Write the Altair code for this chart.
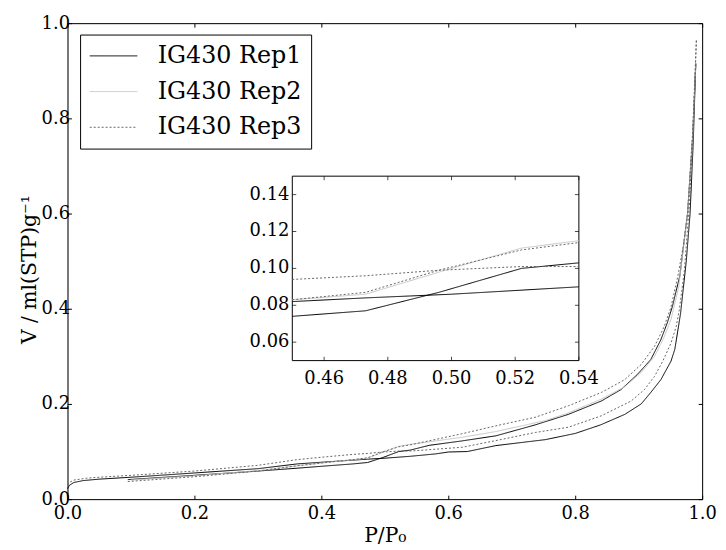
import altair as alt
import pandas as pd

FONT = "DejaVu Serif"
REPS = ["IG430 Rep1", "IG430 Rep2", "IG430 Rep3"]
COLORS = ["#000000", "#c4c4c4", "#666666"]
DASHES = [[1, 0], [1, 0], [2, 2]]

# Rep1 adsorption / desorption
R1A_X = [0.000, 0.003, 0.010, 0.025, 0.050, 0.100, 0.200, 0.300, 0.362, 0.450, 0.473, 0.500, 0.540,
         0.580, 0.600, 0.630, 0.675, 0.753, 0.800, 0.840, 0.878, 0.904, 0.919, 0.935, 0.951, 0.957,
         0.966, 0.975, 0.981, 0.986, 0.990]
R1A_Y = [0.022, 0.029, 0.035, 0.039, 0.042, 0.046, 0.055, 0.064, 0.074, 0.082, 0.084, 0.086, 0.090,
         0.095, 0.099, 0.100, 0.1125, 0.125, 0.138, 0.156, 0.178, 0.200, 0.224, 0.251, 0.290, 0.315,
         0.390, 0.500, 0.600, 0.750, 0.915]
R1D_X = [0.095, 0.200, 0.300, 0.362, 0.400, 0.450, 0.473, 0.496, 0.522, 0.540, 0.570, 0.620, 0.675,
         0.737, 0.789, 0.841, 0.872, 0.898, 0.919, 0.935, 0.945, 0.953, 0.965, 0.977, 0.985, 0.990]
R1D_Y = [0.041, 0.050, 0.059, 0.065, 0.069, 0.074, 0.077, 0.087, 0.100, 0.103, 0.113, 0.122, 0.133,
         0.156, 0.178, 0.206, 0.230, 0.262, 0.293, 0.335, 0.370, 0.404, 0.470, 0.600, 0.760, 0.915]
# Rep2
R2_X = [0.100, 0.200, 0.300, 0.362, 0.450, 0.473, 0.500, 0.522, 0.540, 0.622, 0.675, 0.753, 0.789,
        0.841, 0.878, 0.904, 0.925, 0.940, 0.951, 0.963, 0.977, 0.985, 0.990]
R2_Y = [0.040, 0.049, 0.060, 0.070, 0.083, 0.086, 0.100, 0.111, 0.115, 0.130, 0.142, 0.165, 0.181,
        0.210, 0.236, 0.266, 0.300, 0.340, 0.378, 0.445, 0.600, 0.760, 0.915]
# Rep3 adsorption / desorption
R3A_X = [0.000, 0.003, 0.010, 0.030, 0.050, 0.100, 0.200, 0.300, 0.362, 0.400, 0.450, 0.473, 0.496,
         0.522, 0.540, 0.622, 0.675, 0.737, 0.789, 0.841, 0.888, 0.909, 0.925, 0.938, 0.951, 0.959,
         0.964, 0.972, 0.980, 0.986, 0.991]
R3A_Y = [0.030, 0.035, 0.040, 0.044, 0.046, 0.050, 0.059, 0.071, 0.083, 0.088, 0.094, 0.096, 0.099,
         0.101, 0.101, 0.109, 0.123, 0.140, 0.151, 0.175, 0.206, 0.230, 0.258, 0.290, 0.328, 0.362,
         0.397, 0.480, 0.620, 0.780, 0.967]
R3D_X = [0.095, 0.200, 0.300, 0.362, 0.400, 0.450, 0.473, 0.496, 0.522, 0.540, 0.622, 0.675, 0.737,
         0.789, 0.841, 0.878, 0.904, 0.925, 0.940, 0.951, 0.962, 0.970, 0.977, 0.985, 0.991]
R3D_Y = [0.037, 0.047, 0.059, 0.070, 0.076, 0.083, 0.087, 0.099, 0.110, 0.114, 0.1375, 0.154, 0.172,
         0.196, 0.224, 0.251, 0.283, 0.321, 0.362, 0.404, 0.470, 0.530, 0.600, 0.770, 0.967]

MAIN_TICKS = [0.0, 0.2, 0.4, 0.6, 0.8, 1.0]
INSET_XTICKS = [0.46, 0.48, 0.50, 0.52, 0.54]
INSET_YTICKS = [0.06, 0.08, 0.10, 0.12, 0.14]
INSET_XDOM = [0.45, 0.54]
INSET_YDOM = [0.05, 0.15]

series = [
    (REPS[0], "ads", R1A_X, R1A_Y),
    (REPS[0], "des", R1D_X, R1D_Y),
    (REPS[1], "des", R2_X, R2_Y),
    (REPS[2], "ads", R3A_X, R3A_Y),
    (REPS[2], "des", R3D_X, R3D_Y),
]
rows = []
for rep, br, xs, ys in series:
    for x, y in zip(xs, ys):
        rows.append({"rep": rep, "branch": rep + " " + br, "x": x, "y": y})
df = pd.DataFrame(rows)
box = pd.DataFrame({"x0": [INSET_XDOM[0]], "x1": [INSET_XDOM[1]],
                    "y0": [INSET_YDOM[0]], "y1": [INSET_YDOM[1]]})
xt = pd.DataFrame({"v": INSET_XTICKS, "lo": INSET_YDOM[0], "hi": INSET_YDOM[1]})
yt = pd.DataFrame({"v": INSET_YTICKS, "lo": INSET_XDOM[0], "hi": INSET_XDOM[1]})

# layout geometry (pixels inside the 640x480 plot area)
W, H = 640, 480
IN_L, IN_R, IN_T, IN_B = 226.7, 515.7, 154.3, 340.3
# inset scales span the whole plot area so that the inset window lands at IN_L..IN_R / IN_T..IN_B
kx = (INSET_XDOM[1] - INSET_XDOM[0]) / (IN_R - IN_L)
ky = (INSET_YDOM[1] - INSET_YDOM[0]) / (IN_B - IN_T)
IN_XFULL = [INSET_XDOM[0] - IN_L * kx, INSET_XDOM[1] + (W - IN_R) * kx]
IN_YFULL = [INSET_YDOM[0] - (H - IN_B) * ky, INSET_YDOM[1] + IN_T * ky]

TICK_IN = alt.ExprRef(expr="-4")

common_axis = dict(labelFont=FONT, labelFontSize=18, labelColor="black", tickColor="black",
                   domainColor="black", grid=False, labelFlush=False, tickSize=TICK_IN)

legend = alt.Legend(title=None, orient="none", legendX=12.7, legendY=11.5, strokeColor="black",
                    fillColor="white", padding=9, cornerRadius=0,
                    symbolType="M-2.043,0L2.043,0", symbolSize=552, symbolStrokeWidth=1,
                    symbolOffset=12.25, labelFont=FONT, labelFontSize=24, labelColor="black",
                    labelOffset=32, rowPadding=11, labelLimit=0)
color = alt.Color("rep:N", scale=alt.Scale(domain=REPS, range=COLORS), legend=legend)
dash = alt.StrokeDash("rep:N", scale=alt.Scale(domain=REPS, range=DASHES), legend=legend)

sx_main = alt.Scale(domain=[0, 1], nice=False, zero=False)
sy_main = alt.Scale(domain=[0, 1], nice=False, zero=False)

main_lines = alt.Chart(df).mark_line(strokeWidth=1).encode(
    x=alt.X("x:Q", scale=sx_main, axis=alt.Axis(orient="bottom", values=MAIN_TICKS, format=".1f",
            labelPadding=10, title="P/P₀", titleFont=FONT, titleFontSize=20.5,
            titleFontWeight="normal", titleColor="black", titlePadding=3, **common_axis)),
    y=alt.Y("y:Q", scale=sy_main, axis=alt.Axis(orient="left", values=MAIN_TICKS, format=".1f",
            labelPadding=2, title="V / ml(STP)g⁻¹", titleFont=FONT, titleFontSize=20.5,
            titleFontWeight="normal", titleColor="black", titlePadding=2, titleY=248,
            **common_axis)),
    color=color,
    strokeDash=dash,
    detail="branch:N",
)
main_frame = alt.Chart(df).mark_point(opacity=0).encode(
    x=alt.X("x:Q", scale=sx_main, axis=alt.Axis(orient="top", values=MAIN_TICKS, labels=False,
            title=None, **common_axis)),
    y=alt.Y("y:Q", scale=sy_main, axis=alt.Axis(orient="right", values=MAIN_TICKS, labels=False,
            title=None, **common_axis)),
)
main = alt.layer(main_lines, main_frame).resolve_axis(x="independent", y="independent")

sx_in = alt.Scale(domain=IN_XFULL, nice=False, zero=False)
sy_in = alt.Scale(domain=IN_YFULL, nice=False, zero=False)

inset_box = alt.Chart(box).mark_rect(fill="white", stroke="black", strokeWidth=1).encode(
    x=alt.X("x0:Q", scale=sx_in, axis=None), x2="x1:Q",
    y=alt.Y("y0:Q", scale=sy_in, axis=None), y2="y1:Q",
)
inset_lines = alt.Chart(df).transform_filter(
    (alt.datum.x >= INSET_XDOM[0]) & (alt.datum.x <= INSET_XDOM[1])
).mark_line(strokeWidth=1).encode(
    x=alt.X("x:Q", scale=sx_in, axis=None),
    y=alt.Y("y:Q", scale=sy_in, axis=None),
    color=color,
    strokeDash=dash,
    detail="branch:N",
)
# inset tick labels and inward ticks, placed through the inset scales
xlab = alt.Chart(xt).mark_text(font=FONT, fontSize=18, color="black", baseline="top", dy=10).encode(
    x=alt.X("v:Q", scale=sx_in, axis=None), y=alt.Y("lo:Q", scale=sy_in, axis=None),
    text=alt.Text("v:Q", format=".2f"))
ylab = alt.Chart(yt).mark_text(font=FONT, fontSize=18, color="black", align="right",
                               baseline="middle", dx=-3).encode(
    x=alt.X("lo:Q", scale=sx_in, axis=None), y=alt.Y("v:Q", scale=sy_in, axis=None),
    text=alt.Text("v:Q", format=".2f"))
xtick_b = alt.Chart(xt).mark_tick(orient="vertical", size=4, thickness=1, color="black",
                                  yOffset=-2).encode(
    x=alt.X("v:Q", scale=sx_in, axis=None), y=alt.Y("lo:Q", scale=sy_in, axis=None))
xtick_t = alt.Chart(xt).mark_tick(orient="vertical", size=4, thickness=1, color="black",
                                  yOffset=2).encode(
    x=alt.X("v:Q", scale=sx_in, axis=None), y=alt.Y("hi:Q", scale=sy_in, axis=None))
ytick_l = alt.Chart(yt).mark_tick(orient="horizontal", size=4, thickness=1, color="black",
                                  xOffset=2).encode(
    x=alt.X("lo:Q", scale=sx_in, axis=None), y=alt.Y("v:Q", scale=sy_in, axis=None))
ytick_r = alt.Chart(yt).mark_tick(orient="horizontal", size=4, thickness=1, color="black",
                                  xOffset=-2).encode(
    x=alt.X("hi:Q", scale=sx_in, axis=None), y=alt.Y("v:Q", scale=sy_in, axis=None))

inset = alt.layer(inset_box, inset_lines, xlab, ylab, xtick_b, xtick_t, ytick_l, ytick_r)

chart = alt.layer(main, inset).resolve_scale(x="independent", y="independent").properties(
    width=W, height=H,
    autosize=alt.AutoSizeParams(type="none"),
    padding={"left": 60, "top": 13, "right": 16, "bottom": 48},
).configure_view(stroke="black", strokeWidth=1).configure(background="white")

chart.save("out.html", embed_options={"renderer": "svg", "actions": False})
